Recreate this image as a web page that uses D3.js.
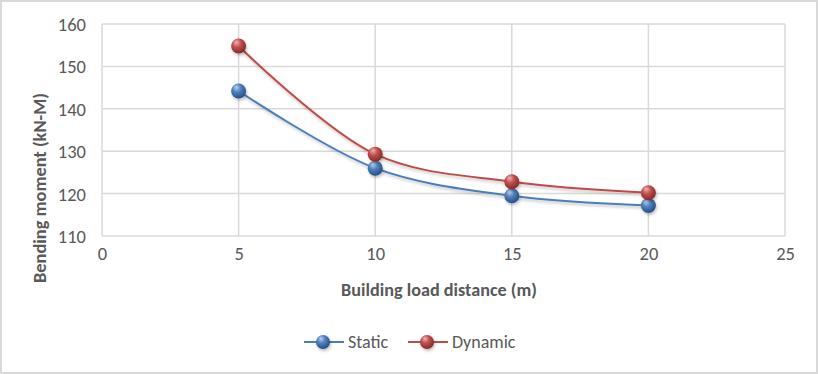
<!DOCTYPE html>
<html>
<head>
<meta charset="utf-8">
<script src="https://cdn.jsdelivr.net/npm/d3@7"></script>
<style>
  html, body { margin: 0; padding: 0; background: white; }
  svg { display: block; }
</style>
</head>
<body>
<svg id="chart" width="818" height="374"></svg>
<script>

// data
var x_values = [5, 10, 15, 20];
var static_values = [144.2, 126.0, 119.5, 117.2];
var dynamic_values = [154.8, 129.3, 122.8, 120.2];

var x_ticks = [0, 5, 10, 15, 20, 25];
var y_ticks = [110, 120, 130, 140, 150, 160];

var series_names = ['Static', 'Dynamic'];

class LineChart
{

  constructor()
  {
    this.font = "Carlito, 'Liberation Sans', Arial, sans-serif";
    this.text_color = '#595959';
    this.grid_color = '#d9d9d9';

    this.svg = d3.select('#chart');

    this.x = d3.scaleLinear().domain([0, 25]).range([102, 785]);
    this.y = d3.scaleLinear().domain([110, 160]).range([236, 24]);

    this.styles = [
      {line: '#4a7ebb', base: '#4f81bd', light: '#b9d1f0', dark: '#264f86'},
      {line: '#be4b48', base: '#c0504d', light: '#f0b4b2', dark: '#862a27'}
    ];

    this.add_defs();
    this.add_frame();
    this.add_grid();
    this.add_axes();
  }

  add_defs()
  {
    var defs = this.svg.append('defs');

    this.styles.forEach((s, i) => {
      var grad = defs.append('radialGradient')
                     .attr('id', 'ball-' + i)
                     .attr('cx', '40%')
                     .attr('cy', '35%')
                     .attr('r', '65%')
                     .attr('fx', '35%')
                     .attr('fy', '25%');
      grad.append('stop').attr('offset', '0%').attr('stop-color', s.light);
      grad.append('stop').attr('offset', '45%').attr('stop-color', s.base);
      grad.append('stop').attr('offset', '100%').attr('stop-color', s.dark);
    });

    var shadow = defs.append('filter')
                     .attr('id', 'shadow')
                     .attr('x', '-50%').attr('y', '-50%')
                     .attr('width', '200%').attr('height', '200%');
    shadow.append('feDropShadow')
          .attr('dx', 1).attr('dy', 2)
          .attr('stdDeviation', 1.5)
          .attr('flood-color', '#000')
          .attr('flood-opacity', 0.25);
  }

  add_frame()
  {
    this.svg.append('rect')
            .attr('x', 1)
            .attr('y', 1)
            .attr('width', 816)
            .attr('height', 372)
            .attr('fill', 'white')
            .attr('stroke', this.grid_color)
            .attr('stroke-width', 2);
  }

  add_grid()
  {
    var g = this.svg.append('g');

    g.selectAll('.hgrid')
     .data(y_ticks)
     .enter()
     .append('line')
     .attr('x1', this.x(0))
     .attr('x2', this.x(25))
     .attr('y1', d => this.y(d))
     .attr('y2', d => this.y(d))
     .attr('stroke', this.grid_color)
     .attr('stroke-width', 1.5);

    g.selectAll('.vgrid')
     .data(x_ticks)
     .enter()
     .append('line')
     .attr('x1', d => this.x(d))
     .attr('x2', d => this.x(d))
     .attr('y1', this.y(160))
     .attr('y2', this.y(110))
     .attr('stroke', this.grid_color)
     .attr('stroke-width', 1.5);
  }

  add_axes()
  {
    var y_axis = this.svg.append('g')
                         .attr('transform', 'translate(' + (this.x(0) - 16) + ',0)')
                         .call(d3.axisLeft(this.y).tickValues(y_ticks).tickSize(0).tickPadding(0));
    y_axis.select('.domain').remove();
    y_axis.selectAll('text')
          .attr('font-family', this.font)
          .attr('font-size', 18.5)
          .attr('fill', this.text_color)
          .attr('dy', '0.35em');

    var x_axis = this.svg.append('g')
                         .attr('transform', 'translate(0,' + (this.y(110) + 11) + ')')
                         .call(d3.axisBottom(this.x).tickValues(x_ticks).tickSize(0).tickPadding(0));
    x_axis.select('.domain').remove();
    x_axis.selectAll('text')
          .attr('font-family', this.font)
          .attr('font-size', 18.5)
          .attr('fill', this.text_color)
          .attr('dy', '0.71em');

    this.svg.append('text')
            .text('Building load distance (m)')
            .attr('x', 439)
            .attr('y', 296)
            .attr('text-anchor', 'middle')
            .attr('font-family', this.font)
            .attr('font-weight', 'bold')
            .attr('font-size', 18.2)
            .attr('fill', this.text_color);

    this.svg.append('text')
            .text('Bending moment (kN-M)')
            .attr('transform', 'translate(46,188) rotate(-90)')
            .attr('text-anchor', 'middle')
            .attr('font-family', this.font)
            .attr('font-weight', 'bold')
            .attr('font-size', 18.4)
            .attr('fill', this.text_color);
  }

  add_series(values, i)
  {
    var points = x_values.map((x, j) => ({x: x, v: values[j]}));

    var line = d3.line()
                 .x(d => this.x(d.x))
                 .y(d => this.y(d.v))
                 .curve(d3.curveCatmullRom.alpha(0.5));

    var g = this.svg.append('g');

    g.append('path')
     .datum(points)
     .attr('fill', 'none')
     .attr('stroke', this.styles[i].line)
     .attr('stroke-width', 2)
     .attr('filter', 'url(#shadow)')
     .attr('d', line);

    g.selectAll('circle')
     .data(points)
     .enter()
     .append('circle')
     .attr('cx', d => this.x(d.x))
     .attr('cy', d => this.y(d.v))
     .attr('r', 7.5)
     .attr('fill', 'url(#ball-' + i + ')')
     .attr('filter', 'url(#shadow)');
  }

  add_legend()
  {
    var starts = [304, 408];
    var cy = 342;

    series_names.forEach((name, i) => {
      var g = this.svg.append('g').attr('transform', 'translate(' + starts[i] + ',' + cy + ')');
      g.append('line')
       .attr('x1', 0).attr('x2', 40)
       .attr('y1', 0).attr('y2', 0)
       .attr('stroke', this.styles[i].line)
       .attr('stroke-width', 2);
      g.append('circle')
       .attr('cx', 19).attr('cy', 0)
       .attr('r', 7)
       .attr('fill', 'url(#ball-' + i + ')')
       .attr('filter', 'url(#shadow)');
      g.append('text')
       .text(name)
       .attr('x', 44)
       .attr('y', 0)
       .attr('dy', '0.35em')
       .attr('font-family', this.font)
       .attr('font-size', 18)
       .attr('fill', this.text_color);
    });
  }

}

var chart = new LineChart();
chart.add_series(static_values, 0);
chart.add_series(dynamic_values, 1);
chart.add_legend();

</script>
</body>
</html>
